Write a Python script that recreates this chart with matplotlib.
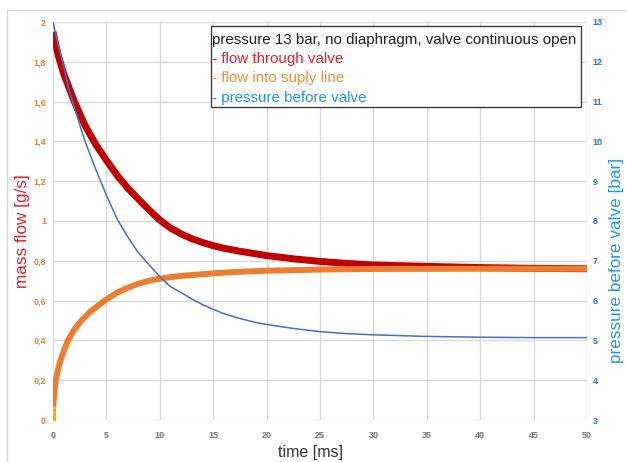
import matplotlib.pyplot as plt
from matplotlib.patches import Rectangle

plt.rcParams['font.family'] = ['Liberation Sans', 'DejaVu Sans']

# flow through valve [g/s]
t_red = [0, 0.5, 1, 1.5, 2, 2.5, 3, 4, 5, 6, 7, 8, 9, 10, 11, 12, 13, 14, 15, 16, 17.5, 19, 20,
         22.5, 25, 27.5, 30, 35, 40, 45, 50]
m_red = [1.95, 1.83, 1.74, 1.67, 1.60, 1.54, 1.48, 1.385, 1.305, 1.23, 1.165, 1.11, 1.055, 1.005,
         0.965, 0.935, 0.911, 0.892, 0.876, 0.863, 0.848, 0.835, 0.826, 0.81, 0.797, 0.787, 0.779,
         0.772, 0.766, 0.762, 0.76]

# flow into suply line [g/s]
t_orange = [0, 0, 0, 0, 0.1, 0.25, 0.5, 0.7, 1, 1.4, 2, 2.66, 3.5, 4, 4.84, 6, 7, 8, 9, 10, 11, 12,
            15, 17.5, 20, 25, 30, 40, 50]
m_orange = [0, 0.02, 0.04, 0.06, 0.12, 0.20, 0.26, 0.30, 0.345, 0.40, 0.455, 0.50, 0.545, 0.565,
            0.60, 0.64, 0.665, 0.685, 0.70, 0.71, 0.718, 0.724, 0.737, 0.745, 0.75, 0.756, 0.759,
            0.76, 0.76]

# pressure before valve [bar]
t_blue = [0, 0.5, 1, 1.5, 2, 3, 4, 5, 6, 7, 8, 9, 10, 11, 12, 13, 14, 15, 16, 17.5, 19, 20, 22.5,
          25, 27.5, 30, 32.5, 35, 40, 45, 50]
p_blue = [13.0, 12.4, 11.88, 11.3, 10.85, 10.0, 9.3, 8.65, 8.05, 7.6, 7.2, 6.9, 6.6, 6.35, 6.2,
          6.04, 5.9, 5.78, 5.67, 5.55, 5.45, 5.4, 5.3, 5.22, 5.17, 5.14, 5.12, 5.1, 5.08, 5.07, 5.07]

x_ticks = [0, 5, 10, 15, 20, 25, 30, 35, 40, 45, 50]
y_ticks = [0, 0.2, 0.4, 0.6, 0.8, 1, 1.2, 1.4, 1.6, 1.8, 2]
y_labels = ["0", "0,2", "0,4", "0,6", "0,8", "1", "1,2", "1,4", "1,6", "1,8", "2"]
p_ticks = [3, 4, 5, 6, 7, 8, 9, 10, 11, 12, 13]

fig = plt.figure(figsize=(6.26, 4.62), dpi=100)
ax = fig.add_axes([53 / 626, 1 - 420 / 462, 534 / 626, 398 / 462])
ax2 = ax.twinx()

ax.plot(t_red, m_red, color="#C00000", lw=5, solid_capstyle="butt", zorder=3)
ax.plot(t_orange, m_orange, color="#ED7D31", lw=4.3, solid_capstyle="butt", zorder=4)
ax.scatter(t_orange[:4], m_orange[:4], s=8, color="#F5B000", zorder=5)
ax2.plot(t_blue, p_blue, color="#4472C4", lw=1.1)

ax.set_xlim(0, 50)
ax.set_ylim(0, 2)
ax2.set_ylim(3, 13)
ax.set_xticks(x_ticks)
ax.set_yticks(y_ticks)
ax.set_yticklabels(y_labels)
ax2.set_yticks(p_ticks)

ax.grid(True, color="#DADADA", lw=1)
ax.set_axisbelow(True)
for a in (ax, ax2):
    for s in a.spines.values():
        s.set_visible(False)

ax.tick_params(axis="x", length=0, pad=8, labelsize=6.5, labelcolor="#767676")
ax.tick_params(axis="y", length=0, pad=5, labelsize=6.5, labelcolor="#E8843A")
ax2.tick_params(axis="y", length=0, pad=4, labelsize=6.5, labelcolor="#2A7BC6")
for lab in ax.get_xticklabels() + ax.get_yticklabels() + ax2.get_yticklabels():
    lab.set_fontweight("bold")

fig.text(310 / 626, 1 - 453 / 462, "time [ms]", ha="center", va="center", fontsize=11.5, color="#333333")
fig.text(23 / 626, 1 - 231 / 462, "mass flow [g/s]", rotation=90, ha="center", va="center",
         fontsize=12.3, color="#E8202A")
fig.text(617 / 626, 1 - 260 / 462, "pressure before valve [bar]", rotation=90, ha="center", va="center",
         fontsize=12.3, color="#1E9BDB")

# info box
fig.patches.append(Rectangle((211 / 626, 1 - 107 / 462), 370 / 626, 81 / 462, transform=fig.transFigure,
                             facecolor="white", edgecolor="#404040", lw=1, zorder=10))
lines = [("pressure 13 bar, no diaphragm, valve continuous open", "#222222"),
         ("- flow through valve", "#E8202A"),
         ("- flow into suply line", "#F0913A"),
         ("- pressure before valve", "#1E9BDB")]
for i, (txt, col) in enumerate(lines):
    fig.text(212 / 626, 1 - (40 + 19.2 * i) / 462, txt, ha="left", va="center", fontsize=10.9,
             color=col, zorder=11)

# outer frame
fig.patches.append(Rectangle((7 / 626, -0.05), 1.1, 1 - 10 / 462 + 0.05, transform=fig.transFigure,
                             facecolor="none", edgecolor="#D9D9D9", lw=1))

fig.savefig("out.png", dpi=100)
